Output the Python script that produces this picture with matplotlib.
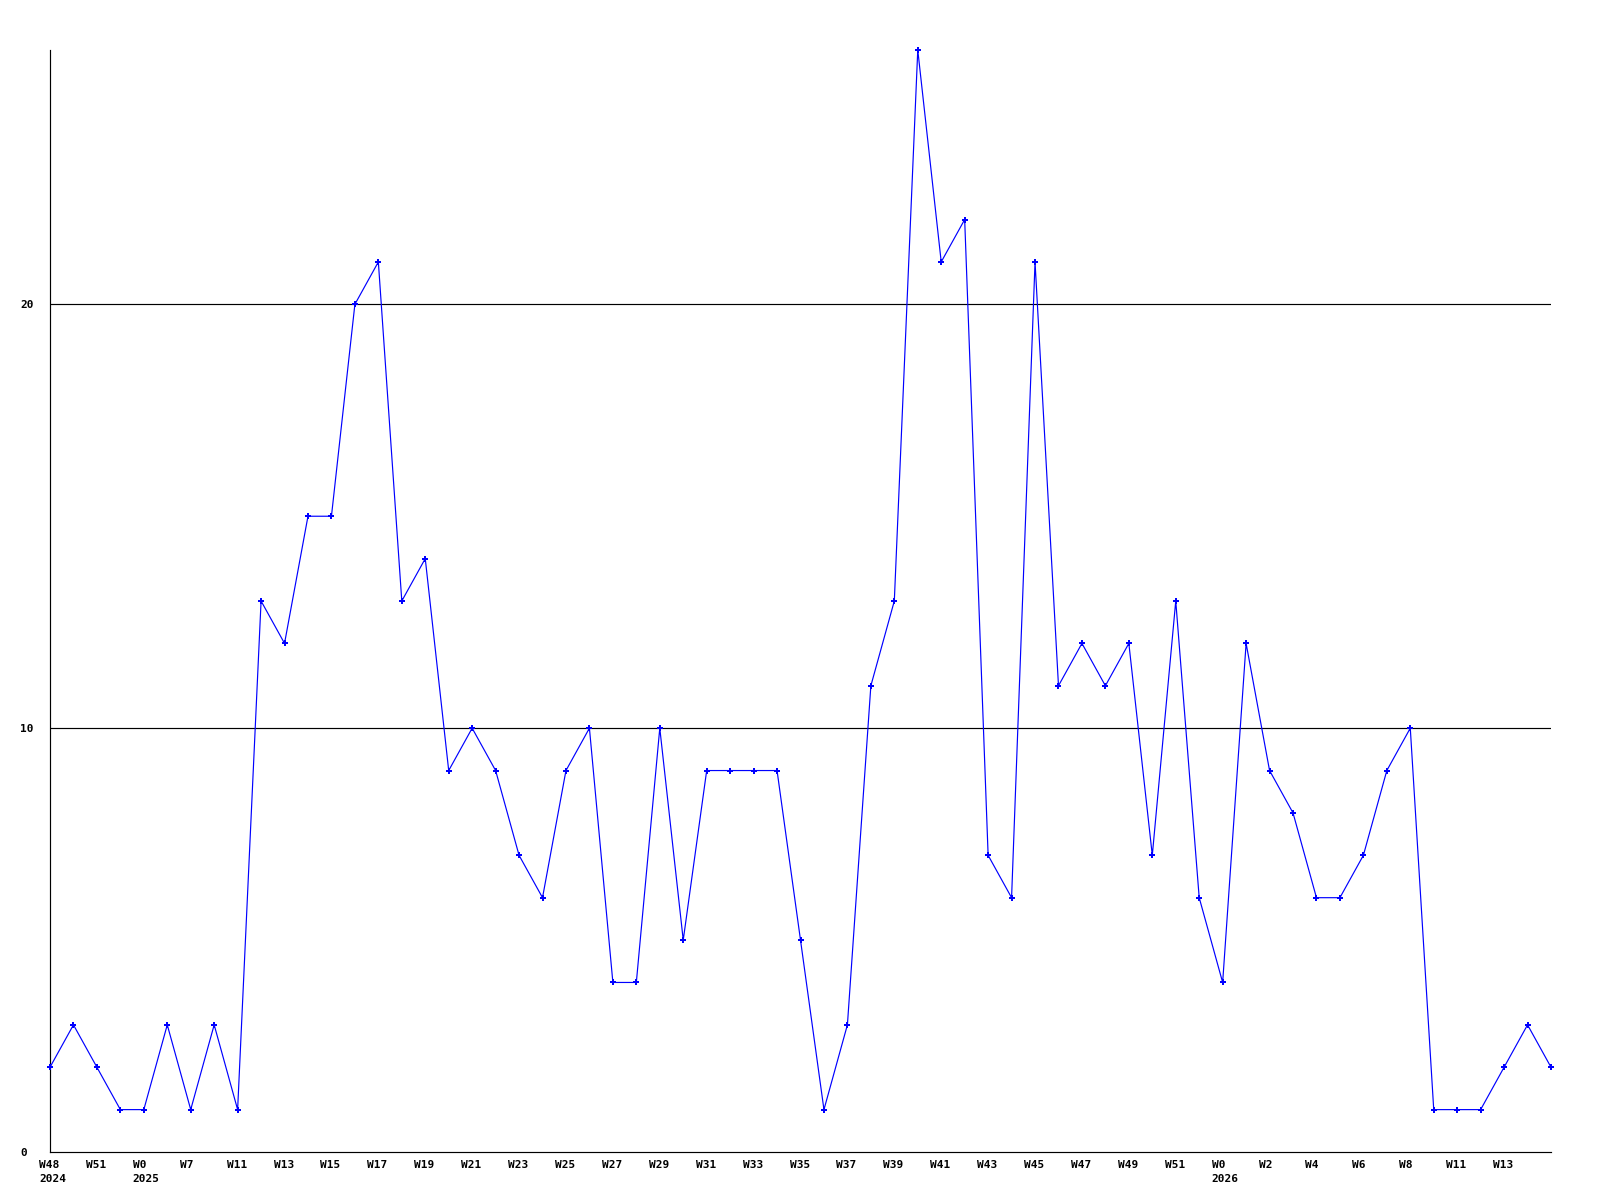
import matplotlib
matplotlib.use("Agg")
import matplotlib.pyplot as plt
from matplotlib.transforms import ScaledTranslation

values = [2, 3, 2, 1, 1, 3, 1, 3, 1, 13, 12, 15, 15, 20, 21, 13, 14, 9, 10, 9,
          7, 6, 9, 10, 4, 4, 10, 5, 9, 9, 9, 9, 5, 1, 3, 11, 13, 26, 21, 22,
          7, 6, 21, 11, 12, 11, 12, 7, 13, 6, 4, 12, 9, 8, 6, 6, 7, 9, 10, 1,
          1, 1, 2, 3, 2]
tick_labels = ["W48\n2024", "W51", "W0\n2025", "W7", "W11", "W13", "W15", "W17",
               "W19", "W21", "W23", "W25", "W27", "W29", "W31", "W33", "W35",
               "W37", "W39", "W41", "W43", "W45", "W47", "W49", "W51",
               "W0\n2026", "W2", "W4", "W6", "W8", "W11", "W13"]
y_ticks = [0, 10, 20]

plt.rcParams['font.family'] = ['DejaVu Sans Mono']
fig = plt.figure(figsize=(16, 12), dpi=100)
ax = fig.add_axes([50/1600, 48/1200, 1501/1600, 1102/1200])

x = list(range(len(values)))
ax.plot(x, values, color='#0000FF', lw=0.85, marker='P', ms=4.5, mew=0,
        zorder=3, clip_on=False)

ax.set_xlim(0, len(values) - 1)
ax.set_ylim(0, 26)
for v in y_ticks[1:]:
    ax.axhline(v, color='black', lw=0.85, zorder=1)

for s in ['top', 'right']:
    ax.spines[s].set_visible(False)
for s in ['left', 'bottom']:
    ax.spines[s].set_linewidth(0.85)
    ax.spines[s].set_color('black')

ax.set_yticks(y_ticks)
ax.set_yticklabels([str(v) for v in y_ticks], fontsize=8, fontweight='bold')
ax.tick_params(axis='y', length=0, pad=0)
yoff = ScaledTranslation(-30/100, 0, fig.dpi_scale_trans)
for lab in ax.get_yticklabels():
    lab.set_ha('left')
    lab.set_transform(lab.get_transform() + yoff)

tick_pos = list(range(0, 2 * len(tick_labels), 2))
ax.set_xticks(tick_pos)
ax.set_xticklabels(tick_labels, fontsize=8, fontweight='bold', linespacing=1.45)
ax.tick_params(axis='x', length=0, pad=6)
off = ScaledTranslation(-11/100, 0, fig.dpi_scale_trans)
for lab in ax.get_xticklabels():
    lab.set_ha('left')
    lab.set_multialignment('left')
    lab.set_transform(lab.get_transform() + off)

fig.savefig('out.png', dpi=100, facecolor='white')
